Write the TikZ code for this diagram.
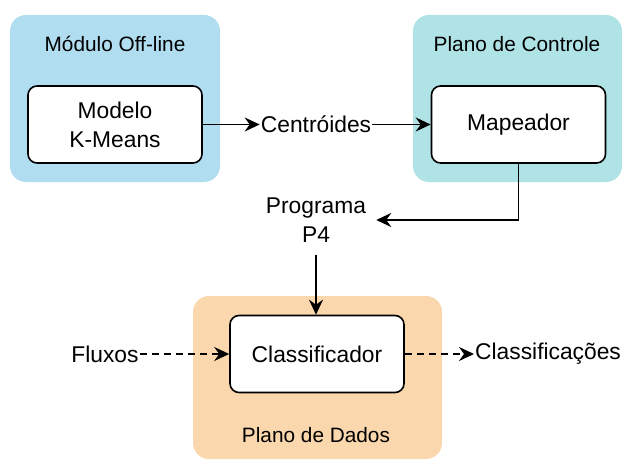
\documentclass[tikz,border=0pt]{standalone}
\usepackage{fontspec}
\setmainfont{Liberation Sans}
\usetikzlibrary{arrows.meta}
\definecolor{offblue}{HTML}{B1DDF0}
\definecolor{ctrlteal}{HTML}{B0E3E6}
\definecolor{dataorange}{HTML}{FAD7AC}
\tikzset{
  panel/.style={rounded corners=16pt, draw=none},
  block/.style={draw=black, line width=1.6pt, fill=white, rounded corners=9pt,
    minimum width=174pt, minimum height=77pt, align=center,
    font=\fontsize{22.8}{29}\selectfont},
  lbl/.style={font=\fontsize{22.8}{29}\selectfont, align=center, inner sep=1pt},
  ttl/.style={font=\fontsize{20.8}{25}\selectfont, inner sep=0pt},
  conn/.style={line width=1.8pt, -{Stealth[length=15pt, width=14pt, inset=5pt]}},
  dconn/.style={conn, dash pattern=on 7pt off 5pt},
}
\begin{document}
\begin{tikzpicture}[x=1pt, y=-1pt]
\useasboundingbox (0,0) rectangle (622,460);

% background panels
\fill[panel, offblue] (10,15) rectangle (220,182);
\fill[panel, ctrlteal] (413,15) rectangle (622,182);
\fill[panel, dataorange] (193,296) rectangle (442,459);

% panel titles
\node[ttl] (toff) at (115,44) {Módulo Off-line};
\node[ttl] (tctl) at (517,44) {Plano de Controle};
\node[ttl] (tdat) at (316,435) {Plano de Dados};

% blocks
\node[block] (km) at (115,124.5) {Modelo\\K-Means};
\node[block] (map) at (518.5,124.5) {Mapeador};
\node[block] (cls) at (317,354) {Classificador};

% free labels
\node[lbl] (cent) at (316,124.5) {Centróides};
\node[lbl, inner xsep=10pt, inner ysep=12pt] (prog) at (316,220) {Programa\\P4};
\node[lbl] (flux) at (105,354) {Fluxos};
\node[lbl, anchor=west] (clss) at (474,354) {Classificações};

% connectors
\draw[conn] (km.east) -- (km.east -| cent.west);
\draw[conn] (cent.east) -- (cent.east -| map.west);
\draw[conn] (map.south) |- (prog.east);
\draw[conn] (prog.south) -- (prog.south |- cls.north);
\draw[dconn] (flux.east) -- (flux.east -| cls.west);
\draw[dconn] (cls.east) -- (cls.east -| clss.west);
\end{tikzpicture}
\end{document}
